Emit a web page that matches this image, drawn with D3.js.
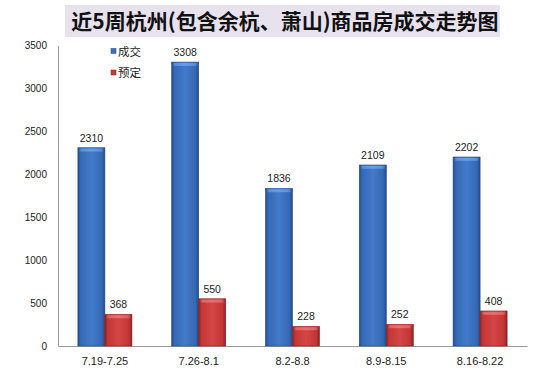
<!DOCTYPE html>
<html>
<head>
<meta charset="utf-8">
<script src="https://cdn.jsdelivr.net/npm/d3@7"></script>
<style>
  body { margin: 0; background: #fff; }
  svg { display: block; }
</style>
</head>
<body>
<svg id="chart" width="555" height="370"></svg>
<script>
// data
var weeks = ["7.19-7.25", "7.26-8.1", "8.2-8.8", "8.9-8.15", "8.16-8.22"];
var deals = [2310, 3308, 1836, 2109, 2202];
var booked = [368, 550, 228, 252, 408];
var seriesNames = ["成交", "预定"];
var yTicks = [0, 500, 1000, 1500, 2000, 2500, 3000, 3500];

var svg = d3.select("#chart");
var margin = { top: 45.6, right: 28, bottom: 24, left: 58 };
var width = 555 - margin.left - margin.right;
var height = 370 - margin.top - margin.bottom;

// gradients to fake the 3d bars
var defs = svg.append("defs");
function barGrad(id, edge, mid, light) {
    var g = defs.append("linearGradient").attr("id", id)
        .attr("x1", "0").attr("x2", "1").attr("y1", "0").attr("y2", "0");
    g.append("stop").attr("offset", "0%").attr("stop-color", edge);
    g.append("stop").attr("offset", "10%").attr("stop-color", mid);
    g.append("stop").attr("offset", "50%").attr("stop-color", light);
    g.append("stop").attr("offset", "88%").attr("stop-color", mid);
    g.append("stop").attr("offset", "100%").attr("stop-color", edge);
}
barGrad("blueGrad", "#224c8a", "#3568b4", "#427bcb");
barGrad("redGrad", "#8e2222", "#c43535", "#d44545");
barGrad("blueTop", "#3f74c0", "#5a92dc", "#64a0e6");
barGrad("redTop", "#b84040", "#e06464", "#e87070");

// title
svg.append("rect")
    .attr("x", 65).attr("y", 5)
    .attr("width", 435).attr("height", 32)
    .attr("fill", "#e7e2ee");
svg.append("text")
    .attr("x", 285).attr("y", 28.5)
    .attr("text-anchor", "middle")
    .attr("font-family", "'Noto Sans CJK SC', sans-serif")
    .attr("font-weight", "bold")
    .attr("font-size", 21)
    .attr("fill", "#111")
    .text("近5周杭州(包含余杭、萧山)商品房成交走势图");

var g = svg.append("g")
    .attr("transform", "translate(" + margin.left + "," + margin.top + ")");

var x = d3.scaleBand()
    .domain(weeks)
    .range([0, width])
    .paddingInner(0.424)
    .paddingOuter(0.212);

var y = d3.scaleLinear()
    .domain([0, 3500])
    .range([height, 0]);

var inner = d3.scaleBand()
    .domain([0, 1])
    .range([0, x.bandwidth()]);

// axes
var yAxis = g.append("g")
    .call(d3.axisLeft(y).tickValues(yTicks).tickFormat(d3.format("d"))
        .tickSize(0).tickSizeOuter(0).tickPadding(11));
yAxis.select(".domain").attr("stroke", "#9a9a9a");
yAxis.selectAll("text")
    .attr("font-family", "'Liberation Sans', Arial, sans-serif")
    .attr("font-size", 10)
    .attr("fill", "#222");

var xAxis = g.append("g")
    .attr("transform", "translate(0," + height + ")")
    .call(d3.axisBottom(x).tickSize(0).tickSizeOuter(0).tickPadding(11));
xAxis.select(".domain").attr("stroke", "#9a9a9a");
xAxis.selectAll("text")
    .attr("font-family", "'Liberation Sans', Arial, sans-serif")
    .attr("font-size", 11)
    .attr("fill", "#222");

// bars
var series = [
    { values: deals, fill: "url(#blueGrad)", top: "url(#blueTop)", stroke: "#234a85" },
    { values: booked, fill: "url(#redGrad)", top: "url(#redTop)", stroke: "#8a2020" }
];

series.forEach(function (s, si) {
    var grp = g.append("g");
    var bars = grp.selectAll("g.bar")
        .data(s.values)
        .enter()
        .append("g");

    bars.append("rect")
        .attr("x", function (d, i) { return x(weeks[i]) + inner(si); })
        .attr("y", function (d) { return y(d); })
        .attr("width", inner.bandwidth())
        .attr("height", function (d) { return height - y(d); })
        .attr("fill", s.fill)
        .attr("stroke", s.stroke)
        .attr("stroke-width", 0.6);

    // light bevel on top
    bars.append("rect")
        .attr("x", function (d, i) { return x(weeks[i]) + inner(si) + 1.5; })
        .attr("y", function (d) { return y(d) + 0.8; })
        .attr("width", inner.bandwidth() - 3)
        .attr("height", 3)
        .attr("fill", s.top);

    bars.append("text")
        .attr("x", function (d, i) { return x(weeks[i]) + inner(si) + inner.bandwidth() / 2; })
        .attr("y", function (d) { return y(d) - 6; })
        .attr("text-anchor", "middle")
        .attr("font-family", "'Liberation Sans', Arial, sans-serif")
        .attr("font-size", 10.5)
        .attr("fill", "#222")
        .text(function (d) { return d; });
});

// legend
var legendColors = ["#3a70c0", "#c83838"];
var legend = svg.append("g").attr("transform", "translate(111,46)");
seriesNames.forEach(function (name, i) {
    var row = legend.append("g").attr("transform", "translate(0," + (i * 21.5) + ")");
    row.append("rect")
        .attr("width", 5).attr("height", 5).attr("y", 2.5)
        .attr("fill", legendColors[i])
        .attr("stroke", i == 0 ? "#234a85" : "#8a2020")
        .attr("stroke-width", 0.5);
    row.append("text")
        .attr("x", 7).attr("y", 9.5)
        .attr("font-family", "'Noto Sans CJK SC', sans-serif")
        .attr("font-size", 11.5)
        .attr("fill", "#222")
        .text(name);
});
</script>
</body>
</html>
